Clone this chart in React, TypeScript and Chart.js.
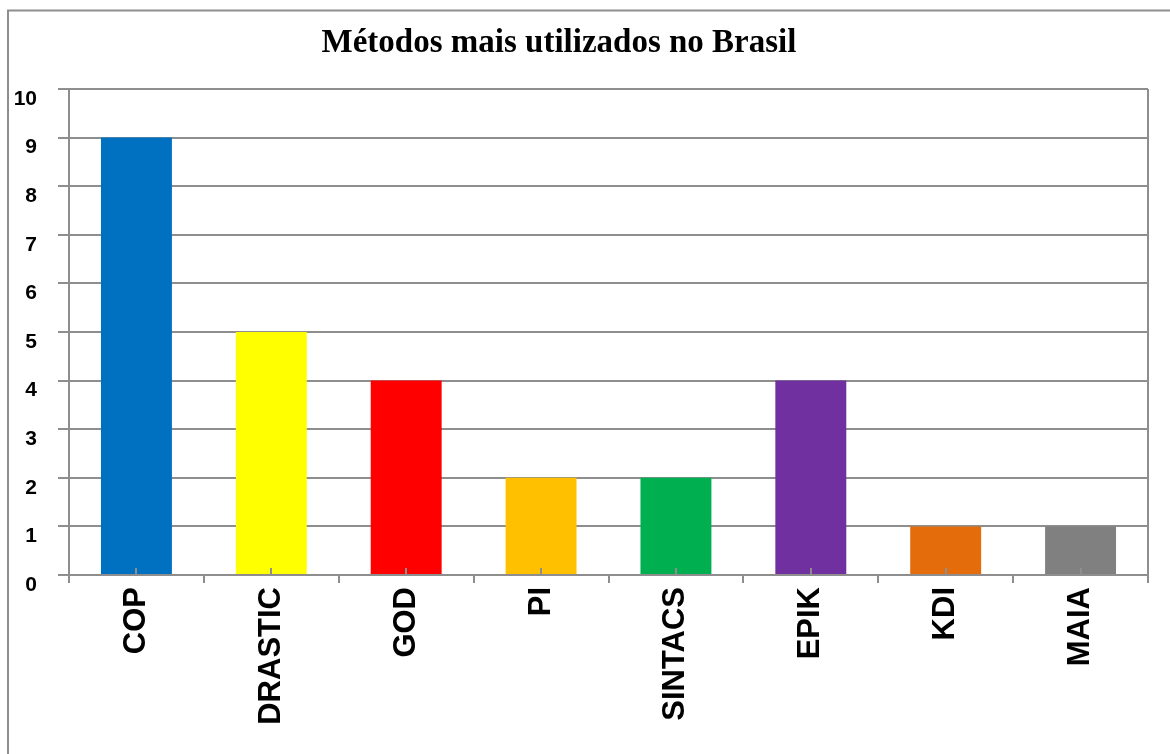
import React, { useEffect, useRef } from "react";
import { Chart, registerables } from "chart.js";

Chart.register(...registerables);

const title = "Métodos mais utilizados no Brasil";
const categories = ["COP", "DRASTIC", "GOD", "PI", "SINTACS", "EPIK", "KDI", "MAIA"];
const values = [9, 5, 4, 2, 2, 4, 1, 1];
const barColors = ["#0070C0", "#FFFF00", "#FF0000", "#FFC000", "#00B050", "#7030A0", "#E46C0A", "#808080"];
const yMin = 0;
const yMax = 10;
const yStep = 1;

const GRID = "#8e8e8e";
const W = 1170;
const H = 754;

const framePlugin = {
  id: "frame",
  beforeDraw(chart: any) {
    const ctx = chart.ctx;
    ctx.save();
    ctx.fillStyle = "#ffffff";
    ctx.fillRect(0, 0, chart.width, chart.height);
    ctx.strokeStyle = GRID;
    ctx.lineWidth = 2;
    ctx.strokeRect(8, 10.5, chart.width + 20, chart.height + 20);
    ctx.restore();
  },
  afterDatasetsDraw(chart: any) {
    const ctx = chart.ctx;
    const a = chart.chartArea;
    const xs = chart.scales.x;
    ctx.save();
    ctx.strokeStyle = GRID;
    ctx.lineWidth = 2;
    // right frame line
    ctx.beginPath();
    ctx.moveTo(a.right, a.top);
    ctx.lineTo(a.right, a.bottom);
    ctx.stroke();
    // small inner ticks at category centres
    for (let i = 0; i < categories.length; i++) {
      const x = Math.round(xs.getPixelForValue(i));
      ctx.beginPath();
      ctx.moveTo(x, a.bottom);
      ctx.lineTo(x, a.bottom - 7);
      ctx.stroke();
    }
    // title
    ctx.fillStyle = "#000";
    ctx.font = "bold 33px 'Liberation Serif', 'Times New Roman', serif";
    ctx.textAlign = "center";
    ctx.textBaseline = "alphabetic";
    ctx.fillText(title, 559, 52);
    ctx.restore();
  },
};

export default function App() {
  const ref = useRef<HTMLCanvasElement>(null);
  useEffect(() => {
    if (!ref.current) return;
    const chart = new Chart(ref.current, {
      type: "bar",
      data: {
        labels: categories,
        datasets: [
          {
            data: values,
            backgroundColor: barColors,
            borderWidth: 0,
            barPercentage: 0.526,
            categoryPercentage: 1,
          },
        ],
      },
      options: {
        responsive: false,
        animation: false,
        devicePixelRatio: 1,
        layout: { padding: { top: 89, right: 22, bottom: 0, left: 0 } },
        plugins: {
          legend: { display: false },
          title: { display: false },
          tooltip: { enabled: false },
        },
        scales: {
          x: {
            afterFit: (s: any) => {
              s.height = H - 575;
            },
            grid: {
              offset: true,
              drawOnChartArea: false,
              drawTicks: true,
              tickLength: 8,
              color: GRID,
              lineWidth: 2,
            },
            border: { display: true, color: GRID, width: 2 },
            ticks: {
              autoSkip: false,
              minRotation: 90,
              maxRotation: 90,
              padding: 4,
              color: "#000",
              font: { family: "'Liberation Sans', Arial, sans-serif", size: 31, weight: "bold" },
            },
          },
          y: {
            min: yMin,
            max: yMax,
            afterFit: (s: any) => {
              s.width = 69;
            },
            grid: {
              color: GRID,
              lineWidth: 2,
              drawTicks: true,
              tickLength: 11,
            },
            border: { display: true, color: GRID, width: 2 },
            ticks: {
              stepSize: yStep,
              padding: 21,
              labelOffset: 10,
              color: "#000",
              font: { family: "'Liberation Sans', Arial, sans-serif", size: 21, weight: "bold" },
            },
          },
        },
      },
      plugins: [framePlugin],
    });
    return () => chart.destroy();
  }, []);
  return (
    <div style={{ position: "fixed", left: 0, top: 0, width: W, height: H, background: "#fff" }}>
      <canvas ref={ref} width={W} height={H} style={{ display: "block" }} />
    </div>
  );
}
